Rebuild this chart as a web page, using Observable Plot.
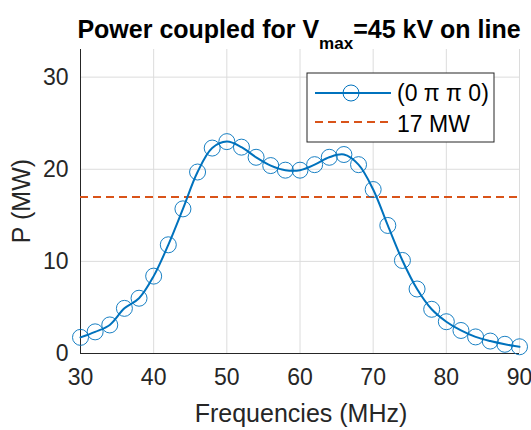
<!DOCTYPE html>
<html><head><meta charset="utf-8">
<script src="https://cdn.jsdelivr.net/npm/d3@7"></script>
<script src="https://cdn.jsdelivr.net/npm/@observablehq/plot@0.6"></script>
<style>body{margin:0;background:#fff;font-family:"Liberation Sans",Arial,sans-serif}</style>
</head><body><div id="chart"></div>
<script>
const freq = [30,32,34,36,38,40,42,44,46,48,50,52,54,56,58,60,62,64,66,68,70,72,74,76,78,80,82,84,86,88,90];
const power = [1.75,2.35,3.1,4.9,6.0,8.4,11.8,15.7,19.7,22.3,23.0,22.4,21.3,20.4,19.9,19.9,20.5,21.3,21.6,20.5,17.8,13.9,10.1,7.0,4.8,3.45,2.5,1.8,1.35,1.0,0.73];
const threshold = 17;
const xTicks = [30,40,50,60,70,80,90];
const yTicks = [0,10,20,30];
const seriesName = "(0 \u03C0 \u03C0 0)";
const thresholdName = "17 MW";

const data = freq.map((f,i)=>({f, p: power[i]}));
const blue = "#0072BD", orange = "#D95319", ink = "#262626";
const font = '"Liberation Sans", Arial, sans-serif';

const chart = Plot.plot({
  width: 531, height: 430,
  marginLeft: 80, marginRight: 12, marginTop: 49, marginBottom: 77,
  style: {fontFamily: font, fontSize: "23px", color: ink, background: "#fff"},
  x: {domain: [30, 90], label: null},
  y: {domain: [0, 33], label: null},
  marks: [
    Plot.gridX(xTicks, {stroke: "#dcdcdc", strokeOpacity: 1}),
    Plot.gridY(yTicks, {stroke: "#dcdcdc", strokeOpacity: 1}),
    Plot.ruleX([30], {stroke: ink}),
    Plot.ruleY([0], {stroke: ink}),
    Plot.ruleY([threshold], {stroke: orange, strokeWidth: 2, strokeDasharray: "8,5"}),
    Plot.line(data, {x: "f", y: "p", stroke: blue, strokeWidth: 2, curve: "catmull-rom"}),
    Plot.dot(data, {x: "f", y: "p", r: 8, stroke: blue, strokeWidth: 1, fill: "none", strokeOpacity: 0.9}),
    Plot.axisX({ticks: xTicks, tickSize: 0, tickPadding: 15, fontSize: 23, fill: ink, label: null}),
    Plot.axisY({ticks: yTicks, tickSize: 0, tickPadding: 12, fontSize: 23, fill: ink, label: null})
  ]
});
document.getElementById("chart").appendChild(chart);

const svg = d3.select(chart);
// title
const t = svg.append("text").attr("x", 299).attr("y", 38).attr("text-anchor", "middle")
  .attr("font-family", font).attr("font-size", 25).attr("font-weight", "bold").attr("fill", "#000");
t.append("tspan").text("Power coupled for V");
t.append("tspan").attr("font-size", 17).attr("dy", 11).text("max");
t.append("tspan").attr("dy", -11).text("=45 kV on line");
// axis labels
svg.append("text").attr("x", 301).attr("y", 422).attr("text-anchor", "middle")
  .attr("font-family", font).attr("font-size", 25).attr("fill", ink).text("Frequencies (MHz)");
svg.append("text").attr("transform", "translate(30,201) rotate(-90)").attr("text-anchor", "middle")
  .attr("font-family", font).attr("font-size", 25).attr("fill", ink).text("P (MW)");
// legend
const lg = svg.append("g").attr("text-anchor", "start");
lg.append("rect").attr("x", 307).attr("y", 73).attr("width", 187).attr("height", 69)
  .attr("fill", "#fff").attr("stroke", ink).attr("stroke-width", 1);
lg.append("line").attr("x1", 315).attr("x2", 391).attr("y1", 93).attr("y2", 93).attr("stroke", blue).attr("stroke-width", 2);
lg.append("circle").attr("cx", 351).attr("cy", 93).attr("r", 8).attr("fill", "none").attr("stroke", blue);
lg.append("text").attr("x", 397).attr("y", 101).attr("font-family", font).attr("font-size", 23).attr("fill", "#000").text(seriesName);
lg.append("line").attr("x1", 315).attr("x2", 391).attr("y1", 122).attr("y2", 122).attr("stroke", orange).attr("stroke-width", 2).attr("stroke-dasharray", "8,5");
lg.append("text").attr("x", 397).attr("y", 132).attr("font-family", font).attr("font-size", 23).attr("fill", "#000").text(thresholdName);
</script></body></html>
